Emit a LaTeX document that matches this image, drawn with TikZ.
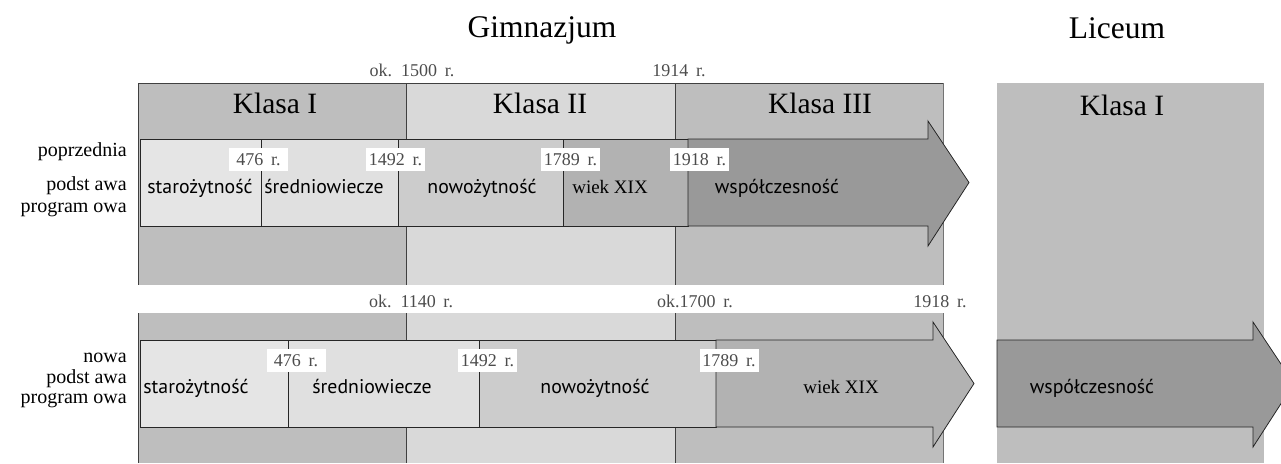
\documentclass[tikz,border=0pt]{standalone}
\usepackage{fontspec}
\setmainfont{Liberation Serif}
\newfontfamily\bandsans{PT Sans}

\definecolor{colKlasaA}{gray}{0.745}
\definecolor{colKlasaB}{gray}{0.85}
\definecolor{colStaro}{gray}{0.9}
\definecolor{colSred}{gray}{0.88}
\definecolor{colNowo}{gray}{0.8}
\definecolor{colWiek}{gray}{0.7}
\definecolor{colWspol}{gray}{0.6}

\newcommand\headfont{\fontsize{29.5}{30}\selectfont}
\newcommand\bigheadfont{\fontsize{31.5}{32}\selectfont}
\newcommand\datefont{\fontsize{18}{19}\selectfont\spaceskip=0.42em\relax}
\newcommand\eraserif{\fontsize{19}{20}\selectfont}
\newcommand\erasans{\bandsans\fontsize{19.8}{20}\selectfont}
\newcommand\sidefont{\fontsize{20}{21}\selectfont}

\begin{document}
\begin{tikzpicture}[x=1pt,y=-1pt,
    every node/.style={inner sep=0pt},
    frame/.style={draw=black!75,line width=0.9pt},
    seg/.style={draw=black!85,line width=0.8pt},
    datebox/.style={fill=white,text=black!70,font=\datefont,minimum width=59,minimum height=23},
    datetop/.style={text=black!70,font=\datefont,anchor=base},
    era/.style={font=\erasans,anchor=base},
    eraserif/.style={font=\eraserif,anchor=base},
    side/.style={font=\sidefont,anchor=base east},
    head/.style={font=\headfont,anchor=base}]
    \useasboundingbox (0,0) rectangle (1281,463);
    \clip (0,0) rectangle (1281,463);

    % column backgrounds (top and bottom panel)
    \foreach \ya/\yb in {83/285,313/463} {
        \fill[colKlasaA] (138,\ya) rectangle (406,\yb);
        \fill[colKlasaB] (406,\ya) rectangle (675,\yb);
        \fill[colKlasaA] (675,\ya) rectangle (943,\yb);
        \draw[frame] (406,\ya) -- (406,\yb);
        \draw[frame] (675,\ya) -- (675,\yb);
        \draw[frame] (138,\ya) -- (138,\yb);
        \draw[draw=black!55,line width=0.7pt] (943,\ya) -- (943,\yb);
    }
    \draw[frame] (138,83) -- (943,83);

    % liceum column
    \fill[colKlasaA] (997,83) rectangle (1264,463);

    % headers
    \node[head,font=\bigheadfont] (gim) at (542,37) {Gimnazjum};
    \node[head,font=\bigheadfont] (lic) at (1117,38) {Liceum};
    \node[head] (kl1) at (275,113) {Klasa I};
    \node[head] (kl2) at (540,113) {Klasa II};
    \node[head] (kl3) at (820,113) {Klasa III};
    \node[head] (lk1) at (1122,115) {Klasa I};

    % top band (poprzednia podstawa)
    \draw[seg,fill=colStaro] (140,139) rectangle (261,226);
    \draw[seg,fill=colSred] (261,139) rectangle (398,226);
    \draw[seg,fill=colNowo] (398,139) rectangle (563,226);
    \draw[seg,fill=colWiek] (563,139) rectangle (688,226);
    \draw[seg,fill=colWspol] (688,139) -- (928,139) -- (928,121) -- (969,182.5)
        -- (928,246) -- (928,226) -- (688,226) -- cycle;

    \node[era] (tstaro) at (200,193) {starożytność};
    \node[era] (tsred) at (324,193) {średniowiecze};
    \node[era] (tnowo) at (482,193) {nowożytność};
    \node[eraserif] (twiek) at (610,193) {wiek XIX};
    \node[era] (twspol) at (777,193) {współczesność};

    \node[datebox] (td1) at (258.5,159.5) {476 r.};
    \node[datebox] (td2) at (395.5,159.5) {1492 r.};
    \node[datebox] (td3) at (570.5,159.5) {1789 r.};
    \node[datebox] (td4) at (699.5,159.5) {1918 r.};

    \node[datetop] (tk1) at (412,76) {ok. 1500 r.};
    \node[datetop] (tk2) at (679,76) {1914 r.};

    % bottom band (nowa podstawa)
    \draw[seg,fill=colStaro] (140,340) rectangle (288,427);
    \draw[seg,fill=colSred] (288,340) rectangle (479,427);
    \draw[seg,fill=colNowo] (479,340) rectangle (716,427);
    \draw[seg,fill=colWiek] (716,340) -- (933,340) -- (933,322) -- (974,383.5)
        -- (933,447) -- (933,427) -- (716,427) -- cycle;

    \node[era] (bstaro) at (196,393) {starożytność};
    \node[era] (bsred) at (372,393) {średniowiecze};
    \node[era] (bnowo) at (595,393) {nowożytność};
    \node[eraserif] (bwiek) at (841,393) {wiek XIX};

    \node[datebox] (bd1) at (296,360.5) {476 r.};
    \node[datebox] (bd2) at (487.5,360.5) {1492 r.};
    \node[datebox] (bd3) at (729,360.5) {1789 r.};

    \node[datetop] (bk1) at (411,307) {ok. 1140 r.};
    \node[datetop] (bk2) at (695,307) {ok.1700 r.};
    \node[datetop] (bk3) at (940,307) {1918 r.};

    % liceum band
    \draw[seg,fill=colWspol] (997,340) -- (1253,340) -- (1253,322) -- (1294,383.5)
        -- (1253,447) -- (1253,427) -- (997,427) -- cycle;
    \node[era] (lwspol) at (1092,393) {współczesność};

    % side labels
    \node[side] (sp1) at (127,156) {poprzednia};
    \node[side] (sp2) at (127,190) {podst awa};
    \node[side] (sp3) at (127,212) {program owa};
    \node[side] (sn1) at (127,362) {nowa};
    \node[side] (sn2) at (127,383) {podst awa};
    \node[side] (sn3) at (127,403) {program owa};
\end{tikzpicture}
\end{document}
